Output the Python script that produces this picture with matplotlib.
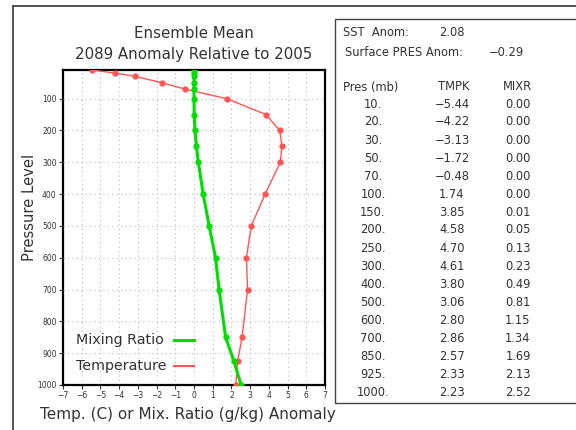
import matplotlib
matplotlib.use("Agg")
import matplotlib.pyplot as plt
from matplotlib.lines import Line2D
from matplotlib.patches import Rectangle

# -------------------------------
# Data (read from the table)
# -------------------------------
pres = [10, 20, 30, 50, 70, 100, 150, 200, 250, 300, 400, 500, 600, 700, 850, 925, 1000]
tmpk = [-5.44, -4.22, -3.13, -1.72, -0.48, 1.74, 3.85, 4.58, 4.70, 4.61, 3.80, 3.06, 2.80, 2.86, 2.57, 2.33, 2.23]
mixr = [0.00, 0.00, 0.00, 0.00, 0.00, 0.00, 0.01, 0.05, 0.13, 0.23, 0.49, 0.81, 1.15, 1.34, 1.69, 2.13, 2.52]
sst_anom = 2.08
sfc_pres_anom = -0.29

x_ticks = list(range(-7, 8))
y_ticks = list(range(100, 1001, 100))

W, H = 576, 430
TXT = "#333333"
RED = "#ff5555"
GREEN = "#00dd00"

def fx(x):
    return x / W

def fy(y):
    return 1 - y / H

fig = plt.figure(figsize=(W / 100, H / 100), dpi=100)

# outer frame
fig.add_artist(Line2D([fx(13), 1], [fy(6), fy(6)], color="#444444", lw=1.3))
fig.add_artist(Line2D([fx(13), fx(13)], [fy(6), 0], color="#444444", lw=1.3))

# -------------------------------
# Profile plot
# -------------------------------
ax = fig.add_axes([fx(63), fy(385), fx(325) - fx(63), fy(70) - fy(385)])
ax.plot(tmpk, pres, color=RED, lw=1.0, marker="o", ms=3.5, zorder=3)
ax.plot(mixr, pres, color=GREEN, lw=2.2, marker="o", ms=3.5, zorder=4)
ax.set_xlim(-7, 7)
ax.set_ylim(1000, 10)
ax.set_xticks(x_ticks)
ax.set_yticks(y_ticks)
ax.set_xticklabels([str(t).replace("-", "\u2212") for t in x_ticks])
ax.tick_params(labelsize=5.5, length=3, width=0.8, colors=TXT, pad=1.5)
ax.grid(True, color="#bbbbbb", ls=(0, (1, 3)), lw=0.8)
for s in ax.spines.values():
    s.set_linewidth(1.6)
    s.set_color("black")

fig.text(fx(194), fy(34), "Ensemble Mean", ha="center", va="center", fontsize=10.8, color=TXT)
fig.text(fx(194), fy(55), "2089 Anomaly Relative to 2005", ha="center", va="center", fontsize=10.8, color=TXT)
fig.text(fx(30), fy(207), "Pressure Level", ha="center", va="center", rotation=90, fontsize=10.6, color=TXT)
fig.text(fx(40), fy(414), "Temp. (C) or Mix. Ratio (g/kg) Anomaly", ha="left", va="center", fontsize=11, color=TXT)

# legend
fig.text(fx(76), fy(340), "Mixing Ratio", ha="left", va="center", fontsize=10.3, color=TXT)
fig.text(fx(76), fy(366), "Temperature", ha="left", va="center", fontsize=10.3, color=TXT)
fig.add_artist(Line2D([fx(174), fx(194)], [fy(340), fy(340)], color=GREEN, lw=2.2))
fig.add_artist(Line2D([fx(174), fx(194)], [fy(366), fy(366)], color=RED, lw=1.5))

# -------------------------------
# Table box
# -------------------------------
fig.add_artist(Rectangle((fx(335), fy(403)), 1.2, fy(19) - fy(403), fill=False,
                         edgecolor="#444444", lw=1.0, transform=fig.transFigure))

def num(v):
    return ("%.2f" % v).replace("-", "\u2212")

fs = 8.3
fig.text(fx(343), fy(32), "SST  Anom:", fontsize=fs, color=TXT, va="center")
fig.text(fx(439), fy(32), num(sst_anom), fontsize=fs, color=TXT, va="center")
fig.text(fx(345), fy(52), "Surface PRES Anom:", fontsize=fs, color=TXT, va="center")
fig.text(fx(489), fy(52), num(sfc_pres_anom), fontsize=fs, color=TXT, va="center")

fig.text(fx(343), fy(87), "Pres (mb)", fontsize=fs, color=TXT, va="center")
fig.text(fx(454), fy(87), "TMPK", fontsize=fs, color=TXT, va="center", ha="center")
fig.text(fx(518), fy(87), "MIXR", fontsize=fs, color=TXT, va="center", ha="center")

row0, dy = 104, 18
for i, (p, t, m) in enumerate(zip(pres, tmpk, mixr)):
    yy = fy(row0 + i * dy)
    fig.text(fx(373), yy, "%d." % p, fontsize=fs, color=TXT, va="center", ha="center")
    fig.text(fx(452), yy, num(t), fontsize=fs, color=TXT, va="center", ha="center")
    fig.text(fx(518), yy, num(m), fontsize=fs, color=TXT, va="center", ha="center")

plt.savefig("out.png", dpi=100)
